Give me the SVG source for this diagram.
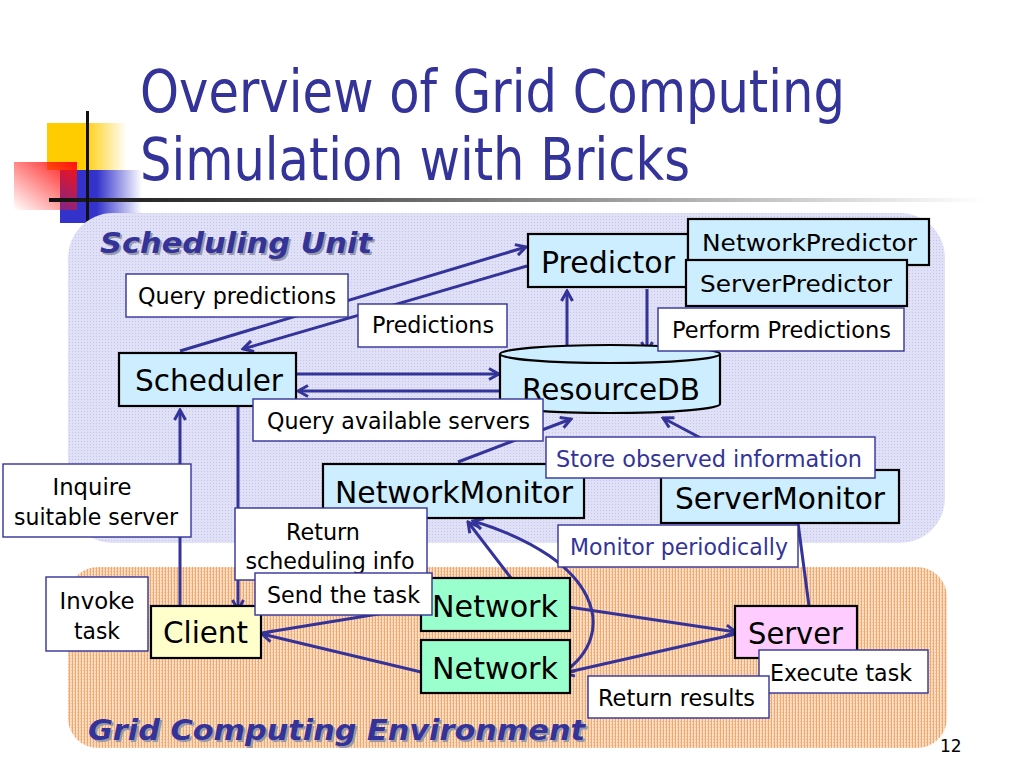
<svg xmlns="http://www.w3.org/2000/svg" width="1024" height="768" viewBox="0 0 1024 768">
<defs>
<style>
.t{font-family:"DejaVu Sans","Liberation Sans",sans-serif;}
.node{fill:#CCEEFF;stroke:#000;stroke-width:2.2;}
.lbl{fill:#FFFFFF;stroke:#333399;stroke-width:1.4;}
.nt{font-family:"DejaVu Sans","Liberation Sans",sans-serif;font-size:30.5px;fill:#000;}
.lt{font-family:"DejaVu Sans","Liberation Sans",sans-serif;font-size:22.5px;fill:#000;}
.bt{font-family:"DejaVu Sans","Liberation Sans",sans-serif;font-size:22.5px;fill:#333399;}
.pt{font-family:"DejaVu Sans","Liberation Sans",sans-serif;font-size:29px;font-weight:bold;font-style:italic;}
.c{fill:none;stroke:#333399;stroke-width:3;}
.ce{marker-end:url(#ah);}
</style>
<marker id="ah" viewBox="0 0 14 14" refX="12" refY="7" markerWidth="14" markerHeight="14" markerUnits="userSpaceOnUse" orient="auto-start-reverse">
<path d="M2,1.5 L12,7 L2,12.5" fill="none" stroke="#333399" stroke-width="3"/>
</marker>
<pattern id="lav" width="3" height="3" patternUnits="userSpaceOnUse"><rect width="3" height="3" fill="#E0E0F6"/><rect width="1" height="1" fill="#C6C6EC"/></pattern>
<pattern id="org" width="3" height="3" patternUnits="userSpaceOnUse"><rect width="3" height="3" fill="#FBDDC2"/><rect width="1" height="3" fill="#F1A870"/><rect x="2" y="1" width="1" height="1" fill="#F5BE94"/></pattern>
<linearGradient id="gy" x1="0" y1="0" x2="1" y2="0"><stop offset="0.45" stop-color="#FFCC00"/><stop offset="1" stop-color="#FFCC00" stop-opacity="0"/></linearGradient>
<linearGradient id="gb" x1="0" y1="0" x2="1" y2="0"><stop offset="0.45" stop-color="#3333CC"/><stop offset="1" stop-color="#3333CC" stop-opacity="0"/></linearGradient>
<linearGradient id="gr" x1="1" y1="0" x2="0" y2="1"><stop offset="0" stop-color="#FF1010"/><stop offset="1" stop-color="#FF1010" stop-opacity="0"/></linearGradient>
<linearGradient id="gl" x1="0" y1="0" x2="1" y2="0"><stop offset="0" stop-color="#111"/><stop offset="0.45" stop-color="#777"/><stop offset="1" stop-color="#FFF"/></linearGradient>
</defs>
<rect width="1024" height="768" fill="#FFFFFF"/>

<g id="title-deco">
<rect x="47" y="123" width="80" height="47" fill="url(#gy)"/>
<rect x="60" y="170" width="82" height="53" fill="url(#gb)"/>
<rect x="14" y="162" width="63" height="48" fill="url(#gr)"/>
<rect x="49" y="198" width="935" height="4" fill="url(#gl)"/>
<rect x="86" y="111" width="3" height="116" fill="#111"/>
</g>
<g id="title" class="t" fill="#333399" font-size="58">
<text x="140" y="112" textLength="705" lengthAdjust="spacingAndGlyphs">Overview of Grid Computing</text>
<text x="140" y="180" textLength="550" lengthAdjust="spacingAndGlyphs">Simulation with Bricks</text>
</g>

<g id="panels">
<rect x="68" y="213" width="877" height="330" rx="45" fill="url(#lav)"/>
<rect x="68" y="567" width="879" height="181" rx="30" fill="url(#org)"/>
<text class="pt" x="102" y="255" fill="#9999AA" textLength="272" lengthAdjust="spacingAndGlyphs">Scheduling Unit</text>
<text class="pt" x="100" y="253" fill="#333399" textLength="272" lengthAdjust="spacingAndGlyphs">Scheduling Unit</text>
<text class="pt" x="90" y="742" fill="#9999AA" textLength="497" lengthAdjust="spacingAndGlyphs">Grid Computing Environment</text>
<text class="pt" x="88" y="740" fill="#333399" textLength="497" lengthAdjust="spacingAndGlyphs">Grid Computing Environment</text>
</g>

<g id="connectors">
<path class="c ce" d="M180,351 L526,247"/>
<path class="c ce" d="M527,266 L243,349"/>
<path class="c ce" d="M297,374 L499,374"/>
<path class="c ce" d="M500,391 L298,391"/>
<path class="c ce" d="M567,352 L567,291"/>
<path class="c ce" d="M647,289 L647,352"/>
<path class="c ce" d="M458,462 L571,419"/>
<path class="c ce" d="M712,444 L663,418"/>
<path class="c ce" d="M180,605 L180,410"/>
<path class="c ce" d="M238,407 L238,610"/>
<path class="c" d="M262,633 L421,607"/>
<path class="c ce" d="M421,672 L262,634"/>
<path class="c ce" d="M562,606 L736,632"/>
<path class="c ce" d="M736,634 L564,673"/>
<path class="c ce" d="M511,578 L468,522"/>
<path class="c" d="M564,672 C618,635 602,560 473,521" marker-start="url(#ah)" marker-end="url(#ah)"/>
<path class="c" d="M798,523 L809,606"/>
</g>

<g id="predictor"><rect class="node" x="528" y="234" width="160" height="53"/><text class="nt" x="541" y="273" textLength="134" lengthAdjust="spacingAndGlyphs">Predictor</text></g>
<g id="network-predictor"><rect class="node" x="688" y="219" width="241" height="46"/><text class="lt" font-size="24" x="702" y="251" textLength="215" lengthAdjust="spacingAndGlyphs">NetworkPredictor</text></g>
<g id="server-predictor"><rect class="node" x="686" y="260" width="221" height="46"/><text class="lt" font-size="24" x="700" y="292" textLength="192" lengthAdjust="spacingAndGlyphs">ServerPredictor</text></g>
<g id="scheduler"><rect class="node" x="119" y="353" width="177" height="53"/><text class="nt" x="135" y="391" textLength="148" lengthAdjust="spacingAndGlyphs">Scheduler</text></g>
<g id="resourcedb">
<path class="node" d="M500,354 A110,9 0 0,1 720,354 L720,404 A110,9 0 0,1 500,404 Z"/>
<path d="M500,354 A110,9 0 0,0 720,354" fill="none" stroke="#000" stroke-width="2.2"/>
<text class="nt" x="522" y="400" textLength="178" lengthAdjust="spacingAndGlyphs">ResourceDB</text>
</g>
<g id="network-monitor"><rect class="node" x="323" y="464" width="261" height="54"/><text class="nt" x="335" y="503" textLength="238" lengthAdjust="spacingAndGlyphs">NetworkMonitor</text></g>
<g id="server-monitor"><rect class="node" x="661" y="470" width="238" height="53"/><text class="nt" x="675" y="509" textLength="210" lengthAdjust="spacingAndGlyphs">ServerMonitor</text></g>
<g id="client"><rect class="node" style="fill:#FFFFCC" x="151" y="606" width="110" height="52"/><text class="nt" x="163" y="643" textLength="85" lengthAdjust="spacingAndGlyphs">Client</text></g>
<g id="network-1"><rect class="node" style="fill:#99FFCC" x="421" y="578" width="149" height="53"/><text class="nt" x="432" y="617" textLength="126" lengthAdjust="spacingAndGlyphs">Network</text></g>
<g id="network-2"><rect class="node" style="fill:#99FFCC" x="421" y="640" width="149" height="53"/><text class="nt" x="432" y="679" textLength="126" lengthAdjust="spacingAndGlyphs">Network</text></g>
<g id="server"><rect class="node" style="fill:#FFCCFF" x="735" y="606" width="122" height="52"/><text class="nt" x="748" y="644" textLength="95" lengthAdjust="spacingAndGlyphs">Server</text></g>

<g id="labels">
<g id="lbl-query-predictions"><rect class="lbl" x="126" y="274" width="222" height="43"/><text class="lt" x="138" y="304" textLength="198" lengthAdjust="spacingAndGlyphs">Query predictions</text></g>
<g id="lbl-predictions"><rect class="lbl" x="358" y="304" width="149" height="43"/><text class="lt" x="372" y="333" textLength="122" lengthAdjust="spacingAndGlyphs">Predictions</text></g>
<g id="lbl-perform"><rect class="lbl" x="658" y="308" width="246" height="43"/><text class="lt" x="672" y="338" textLength="219" lengthAdjust="spacingAndGlyphs">Perform Predictions</text></g>
<g id="lbl-query-servers"><rect class="lbl" x="253" y="399" width="290" height="42"/><text class="lt" x="267" y="429" textLength="263" lengthAdjust="spacingAndGlyphs">Query available servers</text></g>
<g id="lbl-store"><rect class="lbl" x="546" y="437" width="329" height="41"/><text class="bt" x="556" y="467" textLength="306" lengthAdjust="spacingAndGlyphs">Store observed information</text></g>
<g id="lbl-monitor"><rect class="lbl" x="558" y="525" width="240" height="42"/><text class="bt" x="570" y="555" textLength="218" lengthAdjust="spacingAndGlyphs">Monitor periodically</text></g>
<g id="lbl-inquire"><rect class="lbl" x="3" y="464" width="188" height="73"/><text class="lt" x="92" y="495" text-anchor="middle" textLength="79" lengthAdjust="spacingAndGlyphs">Inquire</text><text class="lt" x="96" y="525" text-anchor="middle" textLength="164" lengthAdjust="spacingAndGlyphs">suitable server</text></g>
<g id="lbl-return-sched"><rect class="lbl" x="235" y="508" width="192" height="72"/><text class="lt" x="323" y="540" text-anchor="middle" textLength="74" lengthAdjust="spacingAndGlyphs">Return</text><text class="lt" x="330" y="569" text-anchor="middle" textLength="169" lengthAdjust="spacingAndGlyphs">scheduling info</text></g>
<g id="lbl-invoke"><rect class="lbl" x="46" y="577" width="102" height="74"/><text class="lt" x="97" y="609" text-anchor="middle" textLength="75" lengthAdjust="spacingAndGlyphs">Invoke</text><text class="lt" x="97" y="639" text-anchor="middle" textLength="46" lengthAdjust="spacingAndGlyphs">task</text></g>
<g id="lbl-send"><rect class="lbl" x="255" y="573" width="177" height="42"/><text class="lt" x="267" y="603" textLength="153" lengthAdjust="spacingAndGlyphs">Send the task</text></g>
<g id="lbl-execute"><rect class="lbl" x="759" y="650" width="169" height="43"/><text class="lt" x="770" y="681" textLength="142" lengthAdjust="spacingAndGlyphs">Execute task</text></g>
<g id="lbl-return-results"><rect class="lbl" x="588" y="676" width="181" height="42"/><text class="lt" x="598" y="706" textLength="157" lengthAdjust="spacingAndGlyphs">Return results</text></g>
</g>

<text class="t" x="940" y="752" font-size="17" fill="#000">12</text>
</svg>
